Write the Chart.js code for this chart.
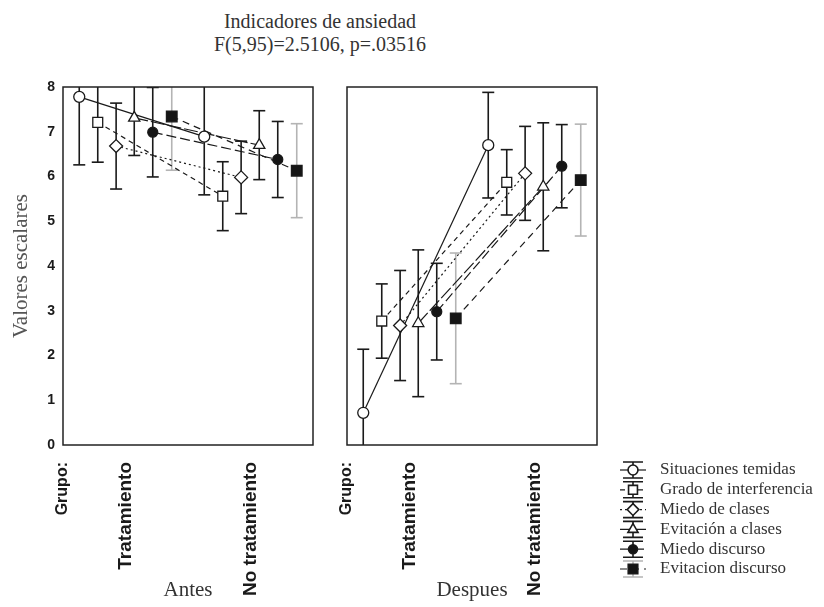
<!DOCTYPE html>
<html>
<head>
<meta charset="utf-8">
<title>Indicadores de ansiedad</title>
<script src="https://cdn.jsdelivr.net/npm/chart.js@4.4.1/dist/chart.umd.min.js"></script>
<style>
    body { margin: 0; background: #fff; }
    #wrap { position: relative; width: 824px; height: 607px; overflow: hidden; }
    #title {
        position: absolute; left: 120px; top: 10px; width: 400px;
        text-align: center; color: #333;
        font: 20px "Liberation Serif", "DejaVu Serif", serif; line-height: 23px;
    }
    canvas { position: absolute; top: 0; }
</style>
</head>
<body>
<div id="wrap">
    <div id="title">Indicadores de ansiedad<br>F(5,95)=2.5106, p=.03516</div>
    <canvas id="antesChart" width="330" height="607" style="left:0"></canvas>
    <canvas id="despuesChart" width="494" height="607" style="left:330px"></canvas>
</div>
<script>
// ============ Data ============

const SERIES = [
    'Situaciones temidas', 'Grado de interferencia', 'Miedo de clases',
    'Evitación a clases', 'Miedo discurso', 'Evitacion discurso'
];
const GROUPS = ['Tratamiento', 'No tratamiento'];
const X_TICKS = [0.5, 1, 2];
const X_LABELS = ['Grupo:', 'Tratamiento', 'No tratamiento'];
const Y_TICKS = [0, 1, 2, 3, 4, 5, 6, 7, 8];

// Antes (before)
const ANTES_TRAT = [7.78, 7.21, 6.68, 7.31, 6.99, 7.34];
const ANTES_NOTRAT = [6.89, 5.56, 5.98, 6.70, 6.38, 6.13];
const ANTES_ERR_TRAT = [1.52, 0.89, 0.96, 0.84, 1.00, 1.20];
const ANTES_ERR_NOTRAT = [1.30, 0.77, 0.81, 0.77, 0.85, 1.05];

// Despues (after)
const DESP_TRAT = [0.72, 2.77, 2.67, 2.72, 2.98, 2.83];
const DESP_NOTRAT = [6.70, 5.87, 6.07, 5.77, 6.23, 5.92];
const DESP_ERR_TRAT = [1.42, 0.83, 1.23, 1.64, 1.08, 1.46];
const DESP_ERR_NOTRAT = [1.18, 0.73, 1.05, 1.43, 0.93, 1.25];

// ============ Styles ============

const OFFSETS = [-0.37, -0.222, -0.075, 0.07, 0.218, 0.37];
const MARKERS = [
    { style: 'circle', radius: 5.5, fill: '#fff' },
    { style: 'rect', radius: 7, fill: '#fff' },
    { style: 'rectRot', radius: 6.5, fill: '#fff' },
    { style: 'triangle', radius: 6.5, fill: '#fff' },
    { style: 'circle', radius: 5, fill: '#151515' },
    { style: 'rect', radius: 7.5, fill: '#151515' }
];
const DASHES = [[], [5, 4], [2, 3], [14, 3], [10, 4], [7, 5]];
const BAR_COLORS = ['#1a1a1a', '#1a1a1a', '#1a1a1a', '#1a1a1a', '#1a1a1a', '#b4b4b4'];
const INK = '#1a1a1a';
const SERIF = '"Liberation Serif", "DejaVu Serif", serif';
const SANS = '"Liberation Sans", Arial, sans-serif';

// ============ Datasets ============

function buildDatasets(trat, noTrat, errTrat, errNoTrat) {
    const sets = [];
    SERIES.forEach((name, i) => {
        const x1 = 1 + OFFSETS[i];
        const x2 = 2 + OFFSETS[i];
        const ends = [
            { x: x1, y: trat[i] - errTrat[i] }, { x: x1, y: trat[i] + errTrat[i] },
            { x: x2, y: noTrat[i] - errNoTrat[i] }, { x: x2, y: noTrat[i] + errNoTrat[i] }
        ];

        // vertical whiskers (null breaks the line between groups)
        sets.push({
            type: 'line',
            data: [ends[0], ends[1], { x: x1, y: null }, ends[2], ends[3]],
            borderColor: BAR_COLORS[i],
            borderWidth: 1.6,
            pointRadius: 0,
            spanGaps: false,
            order: 4
        });
        // caps
        sets.push({
            type: 'scatter',
            data: ends,
            pointStyle: 'line',
            pointRadius: 6,
            pointBorderColor: BAR_COLORS[i],
            pointBorderWidth: 1.6,
            order: 3
        });
        // connecting line
        sets.push({
            type: 'line',
            data: [{ x: x1, y: trat[i] }, { x: x2, y: noTrat[i] }],
            borderColor: INK,
            borderWidth: 1.2,
            borderDash: DASHES[i],
            pointRadius: 0,
            order: 2
        });
        // means
        sets.push({
            type: 'scatter',
            label: name,
            data: [{ x: x1, y: trat[i] }, { x: x2, y: noTrat[i] }],
            pointStyle: MARKERS[i].style,
            pointRadius: MARKERS[i].radius,
            pointBackgroundColor: MARKERS[i].fill,
            pointBorderColor: INK,
            pointBorderWidth: 1.3,
            order: 1
        });
    });
    return sets;
}

// ============ Plugins ============

const framePlugin = {
    id: 'frame',
    afterDraw(chart) {
        const { ctx, chartArea: a } = chart;
        ctx.save();
        ctx.strokeStyle = '#222';
        ctx.lineWidth = 1.5;
        ctx.strokeRect(a.left, a.top, a.right - a.left, a.bottom - a.top);
        ctx.restore();
    }
};

// legend drawn beside the right panel (page x = canvas x + 330)
const legendPlugin = {
    id: 'sideLegend',
    afterDraw(chart) {
        const ctx = chart.ctx;
        const cx = 303;
        ctx.save();
        SERIES.forEach((name, i) => {
            const y = 470 + i * 19.8;
            // line sample
            ctx.strokeStyle = INK;
            ctx.lineWidth = 1.2;
            ctx.setLineDash(DASHES[i]);
            ctx.beginPath();
            ctx.moveTo(cx - 13, y);
            ctx.lineTo(cx + 13, y);
            ctx.stroke();
            ctx.setLineDash([]);
            // whisker with caps
            ctx.strokeStyle = BAR_COLORS[i];
            ctx.lineWidth = 1.6;
            ctx.beginPath();
            ctx.moveTo(cx, y - 8); ctx.lineTo(cx, y + 8);
            ctx.moveTo(cx - 10, y - 8); ctx.lineTo(cx + 10, y - 8);
            ctx.moveTo(cx - 10, y + 8); ctx.lineTo(cx + 10, y + 8);
            ctx.stroke();
            // marker
            ctx.fillStyle = MARKERS[i].fill;
            ctx.strokeStyle = INK;
            Chart.helpers.drawPoint(ctx, {
                pointStyle: MARKERS[i].style,
                radius: MARKERS[i].radius * 0.9,
                rotation: 0,
                borderWidth: 1.3
            }, cx, y);
            // text
            ctx.fillStyle = '#333';
            ctx.font = '17px ' + SERIF;
            ctx.textBaseline = 'middle';
            ctx.textAlign = 'left';
            ctx.fillText(name, 330, y);
        });
        ctx.restore();
    }
};

// ============ Chart Rendering ============

function makeChart(canvasId, datasets, opts) {
    const ctx = document.getElementById(canvasId).getContext('2d');
    return new Chart(ctx, {
        type: 'scatter',
        data: { datasets },
        plugins: opts.plugins,
        options: {
            responsive: false,
            animation: false,
            layout: { padding: { top: 87, right: opts.padRight, left: 0, bottom: 0 } },
            plugins: {
                legend: { display: false },
                tooltip: { enabled: false }
            },
            scales: {
                x: {
                    type: 'linear',
                    min: 0.5,
                    max: 2.5,
                    offset: false,
                    grid: { display: false },
                    border: { display: false },
                    afterBuildTicks: (scale) => {
                        scale.ticks = X_TICKS.map(v => ({ value: v }));
                    },
                    afterFit: (scale) => { scale.height = 162; },
                    ticks: {
                        autoSkip: false,
                        minRotation: 90,
                        maxRotation: 90,
                        padding: 9,
                        color: '#1a1a1a',
                        font: (c) => ({
                            family: SANS,
                            weight: 'bold',
                            size: c.tick && c.tick.value === 0.5 ? 16 : 19
                        }),
                        callback: (val) => X_LABELS[X_TICKS.indexOf(val)]
                    },
                    title: {
                        display: true,
                        text: opts.xTitle,
                        color: '#333',
                        font: { family: SERIF, size: 21 },
                        padding: { top: 0, bottom: 4 }
                    }
                },
                y: {
                    min: 0,
                    max: 8,
                    grid: { display: false, drawTicks: false },
                    border: { display: false },
                    afterBuildTicks: (scale) => {
                        scale.ticks = Y_TICKS.map(v => ({ value: v }));
                    },
                    afterFit: (scale) => { scale.width = opts.yWidth; },
                    ticks: {
                        display: opts.yLabels,
                        padding: 8,
                        color: '#1a1a1a',
                        font: { family: SANS, weight: 'bold', size: 14 }
                    },
                    title: {
                        display: opts.yLabels,
                        text: 'Valores escalares',
                        color: '#555',
                        font: { family: SERIF, size: 21 },
                        padding: { top: 9, bottom: 0 }
                    }
                }
            }
        }
    });
}

makeChart('antesChart',
    buildDatasets(ANTES_TRAT, ANTES_NOTRAT, ANTES_ERR_TRAT, ANTES_ERR_NOTRAT),
    { xTitle: 'Antes', yLabels: true, yWidth: 63, padRight: 17, plugins: [framePlugin] });

makeChart('despuesChart',
    buildDatasets(DESP_TRAT, DESP_NOTRAT, DESP_ERR_TRAT, DESP_ERR_NOTRAT),
    { xTitle: 'Despues', yLabels: false, yWidth: 17, padRight: 227, plugins: [framePlugin, legendPlugin] });
</script>
</body>
</html>
